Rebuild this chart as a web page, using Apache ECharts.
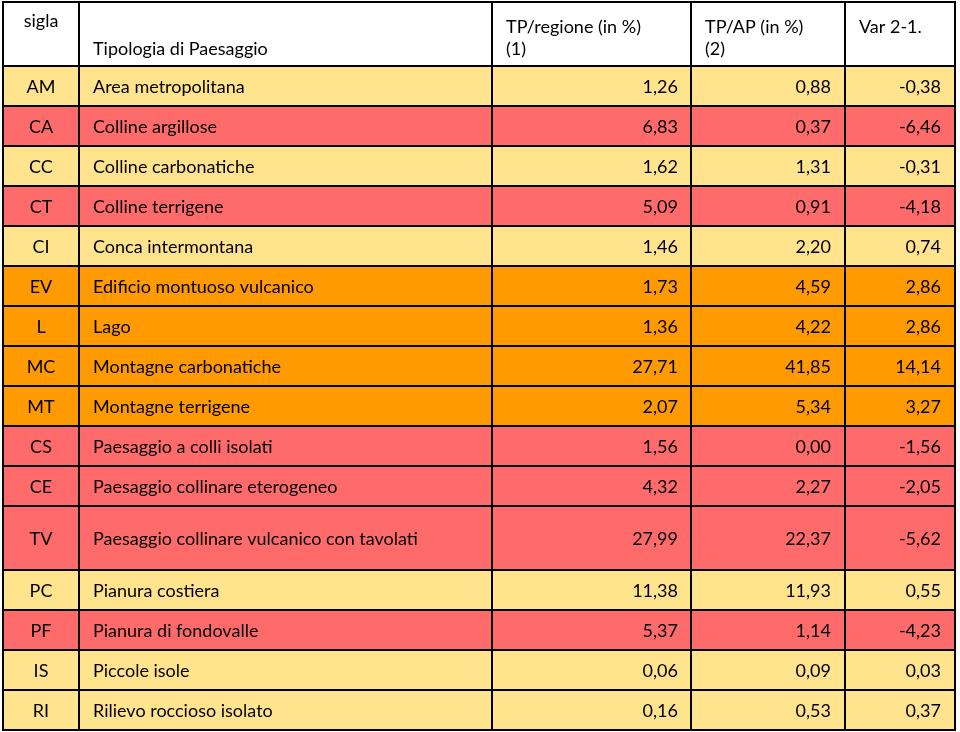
<!DOCTYPE html>
<html><head><meta charset="utf-8">
<script src="https://cdn.jsdelivr.net/npm/echarts@6/dist/echarts.min.js"></script>
<style>html,body{margin:0;padding:0;background:#fff}#c{width:960px;height:732px}</style>
</head><body><div id="c"></div>
<script>
// ---- data ----
const headers = ['sigla', 'Tipologia di Paesaggio', 'TP/regione (in %)', 'TP/AP (in %)', 'Var 2-1.'];
const headerNotes = ['', '', '(1)', '(2)', ''];
const sigla = ['AM','CA','CC','CT','CI','EV','L','MC','MT','CS','CE','TV','PC','PF','IS','RI'];
const tipologia = ['Area metropolitana','Colline argillose','Colline carbonatiche','Colline terrigene','Conca intermontana','Edificio montuoso vulcanico','Lago','Montagne carbonatiche','Montagne terrigene','Paesaggio a colli isolati','Paesaggio collinare eterogeneo','Paesaggio collinare vulcanico con tavolati','Pianura costiera','Pianura di fondovalle','Piccole isole','Rilievo roccioso isolato'];
const tpRegione = [1.26,6.83,1.62,5.09,1.46,1.73,1.36,27.71,2.07,1.56,4.32,27.99,11.38,5.37,0.06,0.16];
const tpAP = [0.88,0.37,1.31,0.91,2.20,4.59,4.22,41.85,5.34,0.00,2.27,22.37,11.93,1.14,0.09,0.53];
const varDiff = [-0.38,-6.46,-0.31,-4.18,0.74,2.86,2.86,14.14,3.27,-1.56,-2.05,-5.62,0.55,-4.23,0.03,0.37];

// ---- layout ----
const colEdges = [3, 79, 492, 691, 845, 955];
const headerTop = 2, headerBottom = 66, rowH = 40, tallRowH = 64, tallRow = 11;
const FONT = 'Lato';
const FS = 18;

function rowColor(v) {
  if (v > 2) return '#FF9A00';
  if (v < -1) return '#FF6B6B';
  return '#FFE38D';
}
function fmt(v) { return v.toFixed(2).replace('.', ','); }

const rowEdges = [headerBottom];
for (let i = 0; i < sigla.length; i++) rowEdges.push(rowEdges[i] + (i === tallRow ? tallRowH : rowH));

const data = [[-1]].concat(sigla.map((s, i) => [i]));

function renderItem(params, api) {
  const i = data[params.dataIndex][0];
  const y0v = i < 0 ? headerTop : rowEdges[i];
  const y1v = i < 0 ? headerBottom : rowEdges[i + 1];
  const children = [];
  const fill = i < 0 ? '#ffffff' : rowColor(varDiff[i]);
  for (let c = 0; c < 5; c++) {
    const p0 = api.coord([colEdges[c], y0v]);
    const p1 = api.coord([colEdges[c + 1], y1v]);
    children.push({
      type: 'rect',
      shape: { x: p0[0], y: p0[1], width: p1[0] - p0[0], height: p1[1] - p0[1] },
      style: { fill: fill, stroke: '#000', lineWidth: 2 }
    });
  }
  const yTop = api.coord([0, y0v])[1];
  const yBot = api.coord([0, y1v])[1];
  const yMid = (yTop + yBot) / 2 + 1;
  const txt = (x, y, t, align) => children.push({
    type: 'text',
    style: { x: x, y: y, text: t, align: align, verticalAlign: 'middle',
      fill: '#000', font: FS + 'px ' + FONT }
  });
  const cx = c => api.coord([colEdges[c], 0])[0];
  if (i < 0) {
    txt((cx(0) + cx(1)) / 2, yTop + 19, headers[0], 'center');
    txt(cx(1) + 14, yTop + 47, headers[1], 'left');
    for (let c = 2; c < 5; c++) {
      txt(cx(c) + 14, yTop + 25, headers[c], 'left');
      if (headerNotes[c]) txt(cx(c) + 14, yTop + 47, headerNotes[c], 'left');
    }
  } else {
    txt((cx(0) + cx(1)) / 2, yMid, sigla[i], 'center');
    txt(cx(1) + 14, yMid, tipologia[i], 'left');
    txt(cx(3) - 13, yMid, fmt(tpRegione[i]), 'right');
    txt(cx(4) - 14, yMid, fmt(tpAP[i]), 'right');
    txt(cx(5) - 14, yMid, fmt(varDiff[i]), 'right');
  }
  return { type: 'group', children: children };
}

const chart = echarts.init(document.getElementById('c'), null, { renderer: 'canvas' });
chart.setOption({
  animation: false,
  grid: { left: 0, right: 0, top: 0, bottom: 0 },
  xAxis: { type: 'value', min: 0, max: 960, show: false },
  yAxis: { type: 'value', min: 0, max: 732, inverse: true, show: false },
  series: [{ type: 'custom', renderItem: renderItem, data: data, clip: false }]
});
</script></body></html>
